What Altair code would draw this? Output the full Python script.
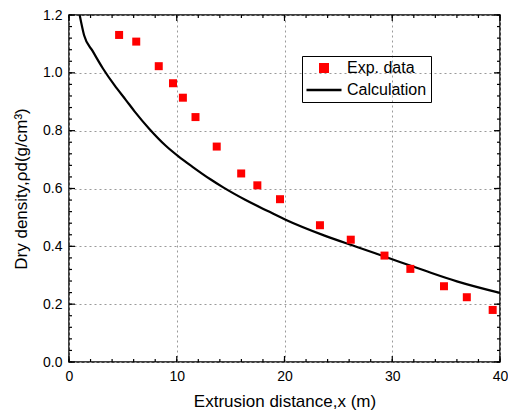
import altair as alt
import pandas as pd

exp_x = [4.65, 6.24, 8.33, 9.65, 10.57, 11.74, 13.71, 15.98, 17.48, 19.58,
         23.29, 26.15, 29.28, 31.68, 34.8, 36.92, 39.32]
exp_y = [1.131, 1.108, 1.023, 0.964, 0.914, 0.847, 0.745, 0.652, 0.611, 0.563,
         0.473, 0.423, 0.368, 0.322, 0.262, 0.224, 0.180]

# Calculation curve
calc_x = [0.99, 1.4, 2.2, 3.15, 4.2, 5.3, 6.1, 7.44, 8.98, 10.1, 11.43,
          13.12, 14.35, 16.35, 18.5, 20.1, 23.72, 26.8, 29.86, 32.94, 36.0, 40.0]
calc_y = [1.2, 1.13, 1.075, 1.015, 0.958, 0.905, 0.866, 0.807, 0.748, 0.713, 0.676,
          0.632, 0.603, 0.561, 0.521, 0.492, 0.437, 0.397, 0.357, 0.317, 0.279, 0.239]

series_names = ["Exp. data", "Calculation"]
x_major = [0, 10, 20, 30, 40]
x_minor = list(range(0, 41, 2))
y_major = [0.0, 0.2, 0.4, 0.6, 0.8, 1.0, 1.2]
y_minor = [round(i * 0.04, 2) for i in range(0, 31)]

W, H = 431, 347
FONT = "Liberation Sans"

df_pts = pd.DataFrame({"x": exp_x, "y": exp_y, "series": series_names[0]})
df_line = pd.DataFrame({"x": calc_x, "y": calc_y, "series": series_names[1]})

xscale = alt.Scale(domain=[0, 40], nice=False, zero=False)
yscale = alt.Scale(domain=[0, 1.2], nice=False, zero=False)

xaxis = alt.Axis(values=x_major, format="d", grid=True, gridDash=[2, 3],
                 gridColor="#9a9a9a", gridWidth=1, ticks=False, domain=False,
                 labelFont=FONT, labelFontSize=14, labelColor="black",
                 labelPadding=7, labelFlush=False,
                 titleFont=FONT, titleFontSize=17, titleFontWeight="normal",
                 titleColor="black", titlePadding=10)
yaxis = alt.Axis(values=y_major, format=".1f", grid=True, gridDash=[2, 3],
                 gridColor="#9a9a9a", gridWidth=1, ticks=False, domain=False,
                 labelFont=FONT, labelFontSize=14, labelColor="black",
                 labelPadding=7, labelFlush=False,
                 titleFont=FONT, titleFontSize=17, titleFontWeight="normal",
                 titleColor="black", titlePadding=12)

XT = "Extrusion distance,x (m)"
YT = "Dry density,ρd(g/cm³)"

def X():
    return alt.X("x:Q", scale=xscale, axis=xaxis, title=XT)

def Y():
    return alt.Y("y:Q", scale=yscale, axis=yaxis, title=YT)

legend = alt.Legend(
    title=None, orient="none", legendX=233, legendY=41,
    strokeColor="black", padding=4, labelFont=FONT, labelFontSize=16,
    labelColor="black", rowPadding=5, labelOffset=15, symbolOffset=10,
    symbolSize=56, symbolStrokeWidth=2.5, symbolOpacity=1,
)

C = alt.Color("series:N", scale=alt.Scale(domain=series_names, range=["#ff0000", "#000000"]),
              legend=legend)
S = alt.Shape("series:N", scale=alt.Scale(domain=series_names, range=["square", "M-4.68,0L4.68,0"]),
              legend=legend)

pts = alt.Chart(df_pts).mark_point(filled=True, size=64, opacity=1, strokeWidth=0).encode(
    x=X(), y=Y(), color=C, shape=S)
line = alt.Chart(df_line).mark_line(strokeWidth=2.2, clip=True, interpolate="monotone").encode(
    x=X(), y=Y(), color=C)

def xticks(vals, y0, y1):
    return alt.Chart(pd.DataFrame({"x": vals})).mark_rule(color="black", strokeWidth=1.2).encode(
        x=X(), y=alt.value(y0), y2=alt.value(y1))

def yticks(vals, x0, x1):
    return alt.Chart(pd.DataFrame({"y": vals})).mark_rule(color="black", strokeWidth=1.2).encode(
        y=Y(), x=alt.value(x0), x2=alt.value(x1))

ticks = [
    xticks(x_major, H, H - 6), xticks(x_minor, H, H - 3),
    xticks(x_major, 0, 6), xticks(x_minor, 0, 3),
    yticks(y_major, 0, 6), yticks(y_minor, 0, 3),
    yticks(y_major, W, W - 6), yticks(y_minor, W, W - 3),
]

chart = alt.layer(*ticks, line, pts).properties(
    width=W, height=H,
    padding={"left": 61, "top": 7, "right": 8, "bottom": 48},
    autosize=alt.AutoSizeParams(type="none"),
).configure_view(stroke="black", strokeWidth=1.5)

chart.save("out.html", embed_options={"renderer": "svg", "actions": False})
